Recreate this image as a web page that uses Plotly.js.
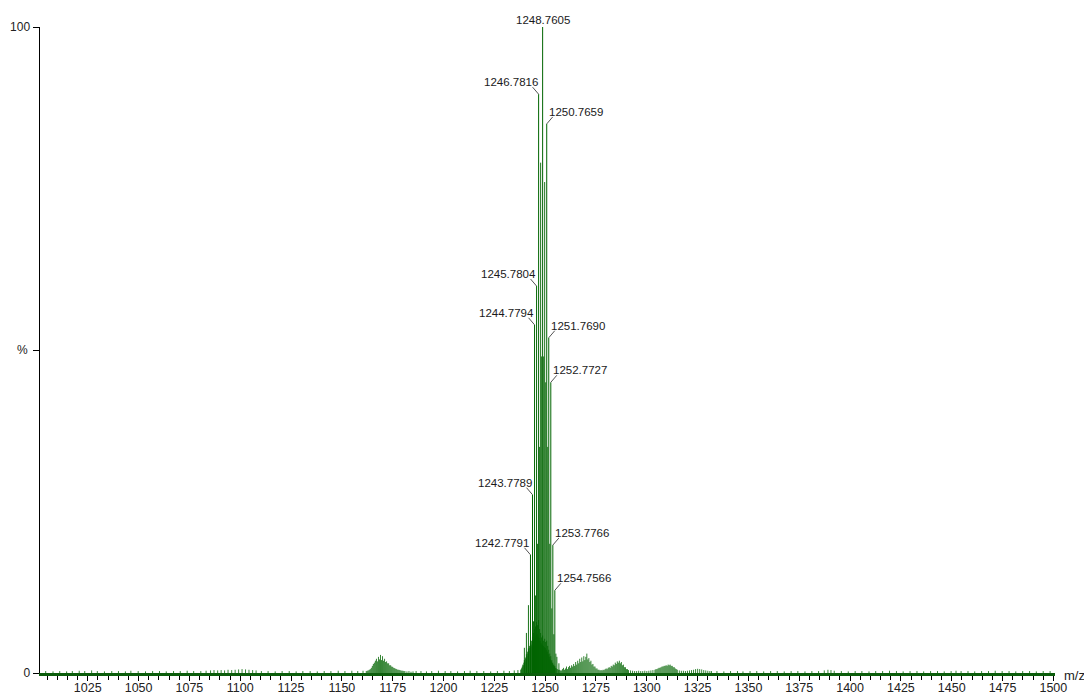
<!DOCTYPE html>
<html>
<head>
<meta charset="utf-8">
<script src="https://cdn.plot.ly/plotly-3.0.1.min.js"></script>
<style>
  html, body { margin: 0; padding: 0; background: #ffffff; }
  #chart { width: 1084px; height: 696px; }
</style>
</head>
<body>
<div id="chart"></div>
<script>
// Annotated isotope peaks: m/z and relative intensity (%)
const labelMz  = [1242.7791, 1243.7789, 1244.7794, 1245.7804, 1246.7816, 1248.7605, 1250.7659, 1251.7690, 1252.7727, 1253.7766, 1254.7566];
const labelPct = [18.3, 27.6, 53.9, 59.9, 89.6, 100, 85.0, 51.9, 45.0, 19.8, 12.8];

// Unlabelled isotope / satellite peaks of the main envelope
const isoMz  = [1239.78, 1240.78, 1241.78, 1244.27, 1245.27, 1246.27, 1247.27, 1247.77, 1248.27, 1249.27, 1249.76, 1250.27, 1251.27, 1252.27, 1253.27, 1254.27, 1255.27, 1255.77, 1256.77];
const isoPct = [3.9, 6.2, 10.5, 8.0, 12.0, 20.0, 35.0, 79.0, 49.0, 49.0, 76.0, 45.0, 35.0, 20.0, 10.0, 6.0, 3.0, 2.5, 1.5];

// Unresolved profile under the main envelope [m/z, %]
const envelopeBase = [
  [1238.0,0.5],[1238.25,0.6],[1238.5,0.8],[1238.75,1.0],[1239.0,1.3],[1239.25,1.2],[1239.5,1.6],[1239.75,2.0],
  [1240.0,1.8],[1240.25,2.4],[1240.5,2.2],[1240.75,2.9],[1241.0,2.6],[1241.25,3.3],[1241.5,3.0],[1241.75,3.8],
  [1242.0,3.4],[1242.25,4.2],[1242.5,3.9],[1242.75,4.6],[1243.0,4.1],[1243.25,5.0],[1243.5,4.4],[1243.75,5.6],
  [1244.0,4.8],[1244.25,6.2],[1244.5,5.2],[1244.75,6.8],[1245.0,5.5],[1245.25,7.2],[1245.5,5.8],[1245.75,7.9],
  [1246.0,6.0],[1246.25,7.4],[1246.5,5.6],[1246.75,8.2],[1247.0,5.4],[1247.25,6.8],[1247.5,5.0],[1247.75,6.2],
  [1248.0,4.6],[1248.25,5.5],[1248.5,4.4],[1248.75,5.8],[1249.0,4.2],[1249.25,5.0],[1249.5,4.0],[1249.75,5.3],
  [1250.0,3.9],[1250.25,4.8],[1250.5,3.6],[1250.75,5.0],[1251.0,3.3],[1251.25,4.2],[1251.5,2.9],[1251.75,3.6],
  [1252.0,2.5],[1252.25,3.0],[1252.5,2.1],[1252.75,2.6],[1253.0,1.8],[1253.25,2.0],[1253.5,1.5],[1253.75,1.6],
  [1254.0,1.2],[1254.25,1.3],[1254.5,1.0],[1254.75,1.1],[1255.0,0.8],[1255.5,0.7],[1256.0,0.6],[1256.5,0.5],
  [1257.0,0.5],[1257.5,0.4],[1258.0,0.4]
];

// Minor envelope around m/z 1169 [m/z, %]
const cluster1169 = [
  [1162.0,0.3],[1162.5,0.35],[1163.0,0.4],[1163.5,0.5],[1164.0,0.6],[1164.5,0.8],[1165.0,1.1],[1165.5,1.4],
  [1166.0,1.6],[1166.5,1.9],[1167.0,2.2],[1167.5,1.8],[1168.0,2.5],[1168.5,2.1],[1169.0,2.8],[1169.5,2.0],
  [1170.0,2.6],[1170.5,1.9],[1171.0,2.2],[1171.5,1.7],[1172.0,1.8],[1172.5,1.5],[1173.0,1.5],[1173.5,1.2],
  [1174.0,1.2],[1174.5,1.0],[1175.0,0.95],[1175.5,0.8],[1176.0,0.75],[1176.5,0.65],[1177.0,0.6],[1177.5,0.5],
  [1178.0,0.5],[1178.5,0.45],[1179.0,0.4],[1179.5,0.35],[1180.0,0.35],[1180.5,0.3],[1181.0,0.3],[1182.0,0.25],
  [1183.0,0.3],[1184.0,0.2],[1185.0,0.25]
];

// Minor envelopes between m/z 1258 and 1331 [m/z, %]
const clusterHigh = [
  [1258.5,0.6],[1259.0,0.8],[1259.5,0.5],[1260.0,0.7],[1260.5,1.0],[1261.0,0.6],[1261.5,0.9],[1262.0,1.1],
  [1262.5,0.8],[1263.0,1.2],[1263.5,1.0],[1264.0,1.4],[1264.5,1.1],[1265.0,1.7],[1265.5,1.3],[1266.0,1.9],
  [1266.5,1.5],[1267.0,2.2],[1267.5,1.7],[1268.0,2.4],[1268.5,1.8],[1269.0,2.6],[1269.5,2.0],[1270.0,2.5],
  [1270.5,3.0],[1271.0,2.1],[1271.5,2.3],[1272.0,1.7],[1272.5,1.9],[1273.0,1.3],[1273.5,1.4],[1274.0,1.0],
  [1274.5,1.0],[1275.0,0.7],[1275.5,0.7],[1276.0,0.5],[1276.5,0.5],[1277.0,0.4],[1277.5,0.45],[1278.0,0.4],
  [1278.5,0.5],[1279.0,0.45],[1279.5,0.6],[1280.0,0.7],[1280.5,0.6],[1281.0,0.8],[1281.5,0.9],[1282.0,0.8],
  [1282.5,1.1],[1283.0,1.0],[1283.5,1.3],[1284.0,1.2],[1284.5,1.6],[1285.0,1.4],[1285.5,1.8],[1286.0,1.6],
  [1286.5,1.9],[1287.0,1.5],[1287.5,1.7],[1288.0,1.2],[1288.5,1.3],[1289.0,0.9],[1289.5,0.9],[1290.0,0.6],
  [1290.5,0.6],[1291.0,0.45],[1292.0,0.4],[1293.0,0.35],[1294.0,0.3],[1295.0,0.3],[1296.0,0.35],[1297.0,0.3],
  [1298.0,0.3],[1299.0,0.35],[1300.0,0.3],[1301.0,0.35],[1302.0,0.4],[1303.0,0.45],[1304.0,0.5],[1304.5,0.6],
  [1305.0,0.6],[1305.5,0.7],[1306.0,0.8],[1306.5,0.8],[1307.0,0.9],[1307.5,1.0],[1308.0,1.0],[1308.5,1.1],
  [1309.0,1.1],[1309.5,1.2],[1310.0,1.1],[1310.5,1.3],[1311.0,1.2],[1311.5,1.3],[1312.0,1.1],[1312.5,1.1],
  [1313.0,0.9],[1313.5,0.9],[1314.0,0.7],[1314.5,0.6],[1315.0,0.5],[1316.0,0.4],[1317.0,0.35],[1318.0,0.35],
  [1319.0,0.3],[1320.0,0.35],[1321.0,0.4],[1322.0,0.45],[1323.0,0.5],[1324.0,0.6],[1325.0,0.65],[1326.0,0.6],
  [1327.0,0.55],[1328.0,0.45],[1329.0,0.4],[1330.0,0.35],[1331.0,0.3]
];

// Baseline noise [m/z, %]
const baseNoise = [
  [1004.3,0.3],[1007.9,0.25],[1011.2,0.3],[1014.6,0.25],[1017.4,0.3],[1020.8,0.35],[1023.5,0.3],[1026.9,0.4],
  [1029.7,0.3],[1033.2,0.25],[1036.8,0.3],[1040.1,0.3],[1043.5,0.25],[1046.2,0.35],[1049.8,0.3],[1053.4,0.25],
  [1056.9,0.3],[1060.3,0.3],[1063.6,0.25],[1067.2,0.3],[1070.5,0.3],[1073.9,0.35],[1077.1,0.3],[1080.6,0.3],
  [1083.2,0.35],[1085.4,0.4],[1087.1,0.45],[1088.9,0.4],[1090.6,0.45],[1092.3,0.4],[1094.0,0.5],[1095.8,0.45],
  [1097.5,0.5],[1099.2,0.55],[1100.9,0.6],[1102.6,0.55],[1104.3,0.5],[1106.1,0.45],[1107.8,0.4],[1110.4,0.3],
  [1113.7,0.3],[1117.2,0.25],[1120.6,0.3],[1124.1,0.3],[1127.5,0.25],[1130.8,0.3],[1134.4,0.3],[1137.9,0.25],
  [1141.3,0.3],[1144.6,0.3],[1148.2,0.35],[1151.5,0.3],[1154.9,0.35],[1157.8,0.3],[1160.4,0.35],[1186.5,0.3],
  [1188.9,0.3],[1191.6,0.25],[1194.2,0.3],[1197.5,0.35],[1200.8,0.3],[1203.6,0.3],[1206.9,0.25],[1210.3,0.3],
  [1213.1,0.35],[1216.4,0.3],[1219.8,0.3],[1223.2,0.25],[1226.5,0.3],[1229.7,0.35],[1232.4,0.3],[1234.8,0.4],
  [1236.6,0.45],[1331.8,0.3],[1334.5,0.3],[1337.9,0.25],[1341.2,0.3],[1344.6,0.3],[1347.3,0.25],[1350.8,0.3],
  [1354.1,0.3],[1357.5,0.25],[1360.9,0.3],[1364.2,0.3],[1367.6,0.25],[1371.0,0.3],[1374.3,0.3],[1377.8,0.25],
  [1381.2,0.3],[1384.5,0.3],[1387.3,0.4],[1389.1,0.5],[1390.6,0.45],[1392.2,0.35],[1395.7,0.3],[1399.1,0.25],
  [1402.5,0.3],[1405.8,0.3],[1409.3,0.25],[1412.6,0.3],[1416.0,0.3],[1419.4,0.35],[1422.8,0.3],[1426.1,0.25],
  [1429.5,0.3],[1432.9,0.3],[1436.2,0.25],[1439.6,0.3],[1443.0,0.3],[1446.3,0.25],[1449.7,0.3],[1452.1,0.35],
  [1454.6,0.3],[1458.0,0.3],[1461.3,0.25],[1464.7,0.3],[1468.1,0.3],[1471.4,0.35],[1474.8,0.3],[1478.2,0.3],
  [1481.5,0.25],[1484.9,0.3],[1488.3,0.3],[1491.6,0.25],[1495.0,0.3],[1498.4,0.3]
];

// Axis settings
const xTickStep = 25;
const xMinorStep = 5;
const yTickVals = [0, 50, 100];
const yTickText = ['0', '', '100'];

const GREEN = '#006400';
const FONT = 'Liberation Sans, Arial, sans-serif';

// Each peak is drawn as a vertical stick from 0 to its intensity
function sticks(mz, pct) {
  const x = [], y = [];
  mz.forEach((m, i) => { x.push(m, m, null); y.push(0, pct[i], null); });
  return { x, y };
}
function sticksFromPairs(pairs) {
  return sticks(pairs.map(p => p[0]), pairs.map(p => p[1]));
}

const profilePairs = [].concat(baseNoise, cluster1169, envelopeBase, clusterHigh);
const prof = sticksFromPairs(profilePairs);
const iso = sticks(isoMz, isoPct);
const lab = sticks(labelMz, labelPct);

const traceStyle = { type: 'scatter', mode: 'lines', hoverinfo: 'skip', showlegend: false };
const data = [
  Object.assign({}, traceStyle, { x: prof.x, y: prof.y, line: { color: GREEN, width: 0.8 } }),
  Object.assign({}, traceStyle, { x: iso.x, y: iso.y, line: { color: GREEN, width: 0.9 } }),
  Object.assign({}, traceStyle, { x: lab.x, y: lab.y, line: { color: GREEN, width: 1 } })
];

// Peak labels with short leader lines
const basePeak = labelMz[labelPct.indexOf(Math.max.apply(null, labelPct))];
const annotations = [];
const shapes = [];
labelMz.forEach((m, i) => {
  const side = m < basePeak ? -1 : (m > basePeak ? 1 : 0);
  const ann = {
    x: m, y: labelPct[i], xref: 'x', yref: 'y',
    text: m.toFixed(4), showarrow: false,
    font: { family: FONT, size: 11.5, color: '#1a1a1a' },
    yanchor: 'bottom'
  };
  if (side === 0) {
    ann.xanchor = 'center'; ann.yshift = -1;
  } else {
    ann.xanchor = side < 0 ? 'right' : 'left';
    ann.xshift = side < 0 ? 1 : 0;
    ann.yshift = 4;
    shapes.push({
      type: 'line', xref: 'x', yref: 'y',
      xsizemode: 'pixel', ysizemode: 'pixel',
      xanchor: m, yanchor: labelPct[i],
      x0: 0, y0: 0, x1: 6 * side, y1: 7,
      line: { color: '#555555', width: 1 }
    });
  }
  annotations.push(ann);
});

// Axis captions
annotations.push({
  xref: 'paper', yref: 'y', x: -0.0177, y: 50, text: '%', showarrow: false,
  xanchor: 'center', yanchor: 'middle',
  font: { family: FONT, size: 12, color: '#222222' }
});
annotations.push({
  xref: 'paper', yref: 'paper', x: 1.0065, y: 0, text: 'm/z', showarrow: false,
  xanchor: 'left', yanchor: 'middle', yshift: -2,
  font: { family: FONT, size: 13, color: '#222222' }
});

const layout = {
  width: 1084, height: 696,
  margin: { l: 40, r: 29, t: 27, b: 23, pad: 0 },
  paper_bgcolor: '#ffffff', plot_bgcolor: '#ffffff',
  showlegend: false,
  xaxis: {
    range: [1001.5, 1500.8], autorange: false,
    tick0: 1000, dtick: xTickStep, ticks: 'outside', ticklen: 5, tickwidth: 1, tickcolor: '#000000',
    ticklabelstandoff: -4,
    showgrid: false, zeroline: false, automargin: false,
    showline: true, linecolor: '#0b5d0b', linewidth: 3,
    tickfont: { family: FONT, size: 12.5, color: '#222222' },
    minor: { dtick: xMinorStep, ticks: 'outside', ticklen: 4, tickwidth: 1, tickcolor: '#000000', showgrid: false },
    fixedrange: true
  },
  yaxis: {
    range: [0, 100], autorange: false,
    tickmode: 'array', tickvals: yTickVals, ticktext: yTickText,
    ticks: 'outside', ticklen: 6, tickwidth: 1, tickcolor: '#000000',
    showgrid: false, zeroline: false, automargin: false,
    showline: true, linecolor: '#000000', linewidth: 1.5,
    tickfont: { family: FONT, size: 12, color: '#222222' },
    fixedrange: true
  },
  annotations: annotations,
  shapes: shapes
};

Plotly.newPlot('chart', data, layout, { displayModeBar: false, staticPlot: true });
</script>
</body>
</html>
